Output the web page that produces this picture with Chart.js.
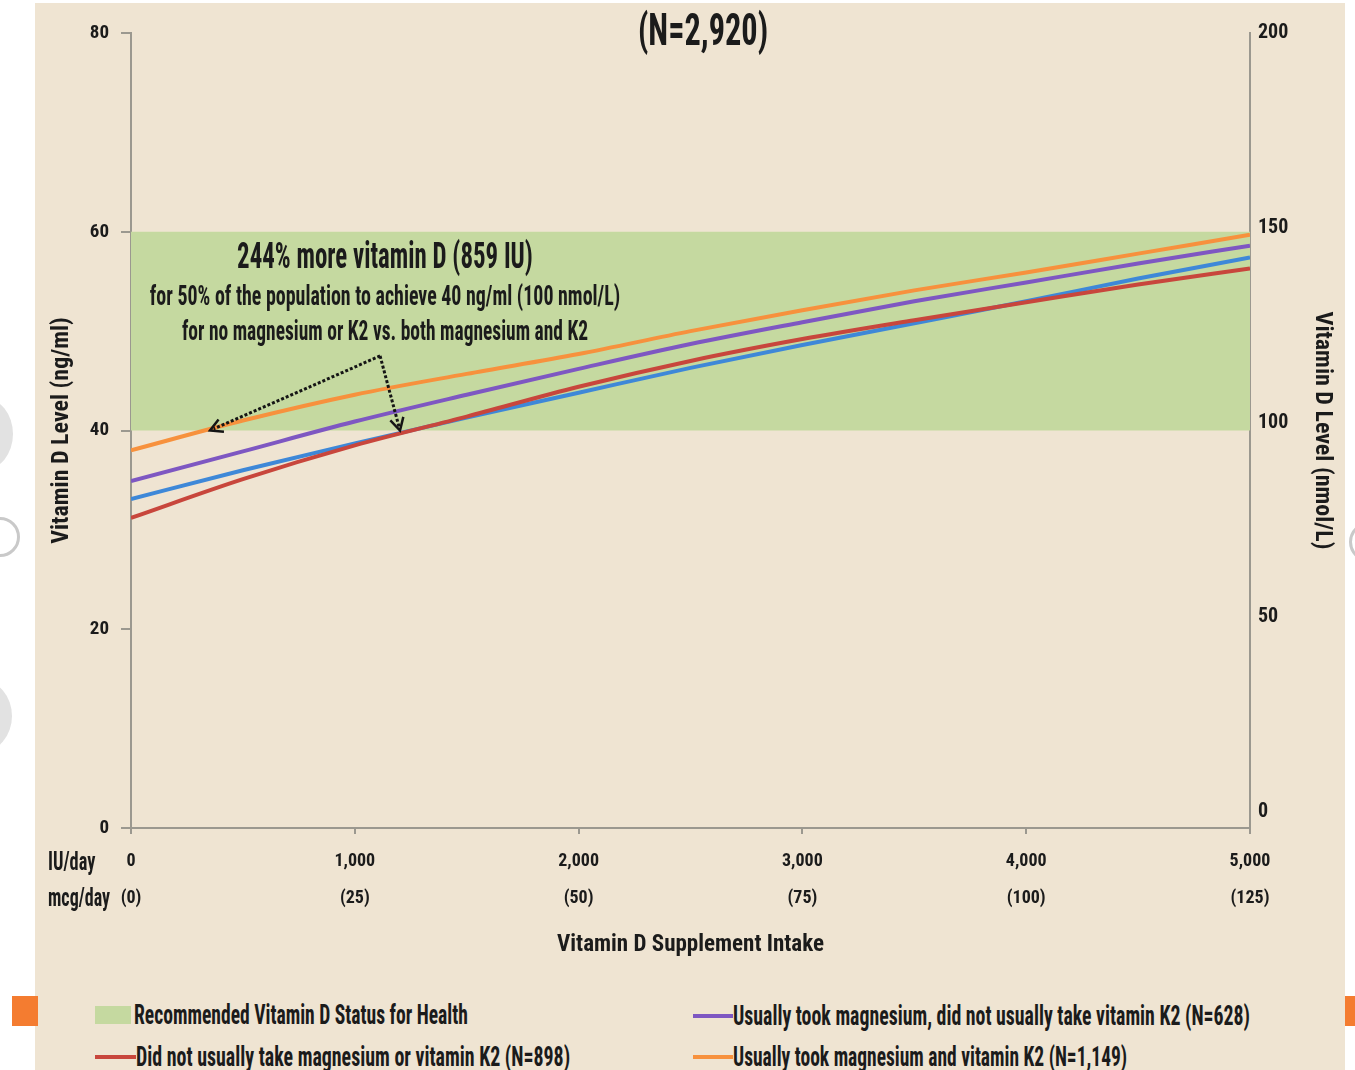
<!DOCTYPE html>
<html>
<head>
<meta charset="utf-8">
<script src="https://cdn.jsdelivr.net/npm/chart.js@4.4.1/dist/chart.umd.min.js"></script>
<style>
html, body { margin: 0; padding: 0; background: #fff; }
body { width: 1355px; height: 1070px; position: relative; overflow: hidden;
  font-family: "Roboto Condensed", "Open Sans Condensed", "DejaVu Sans Condensed", sans-serif;
  font-weight: bold; color: #1b1b1b; }
#panel { position: absolute; left: 35px; top: 3px; width: 1310px; height: 1067px; background: #efe4d2; }
#wrap { position: absolute; left: 0; top: 0; width: 1355px; height: 980px; }
.txt { position: absolute; white-space: nowrap; line-height: 1; }
.c { transform-origin: 50% 50%; }
.l { transform-origin: 0 50%; }
.mark { position: absolute; }
.tab { position: absolute; background: #f47c30; }
.blob { position: absolute; border-radius: 50%; }
</style>
</head>
<body>
<div class="blob" style="left:-45px;top:398px;width:58px;height:72px;background:#e2e2e2"></div>
<div class="blob" style="left:-20px;top:517px;width:40px;height:40px;border:3px solid #c9c9c9;box-sizing:border-box"></div>
<div class="blob" style="left:-50px;top:680px;width:62px;height:72px;background:#e2e2e2"></div>
<div class="blob" style="left:1349px;top:522px;width:40px;height:40px;border:3px solid #c9c9c9;box-sizing:border-box"></div>
<div id="panel"></div>
<div class="tab" style="left:12px;top:996px;width:26px;height:30px"></div>
<div class="tab" style="left:1345px;top:996px;width:10px;height:30px"></div>
<div id="wrap"><canvas id="Chart"></canvas></div>

<div class="txt c" data-w="130" style="left:703px;top:30px;font-size:44px">(N=2,920)</div>
<div class="txt c" data-w="296" style="left:385px;top:256px;font-size:36px">244% more vitamin D (859 IU)</div>
<div class="txt c" data-w="470" style="left:385px;top:296px;font-size:27px">for 50% of the population to achieve 40 ng/ml (100 nmol/L)</div>
<div class="txt c" data-w="406" style="left:385px;top:331px;font-size:27px">for no magnesium or K2 vs. both magnesium and K2</div>
<div class="txt l" data-w="47" style="left:48px;top:861px;font-size:25px">IU/day</div>
<div class="txt l" data-w="62" style="left:48px;top:897px;font-size:25px">mcg/day</div>

<div class="mark" style="left:95px;top:1006px;width:36px;height:18px;background:#c5d9a0"></div>
<div class="mark" style="left:95px;top:1055px;width:41px;height:4px;background:#c8463c"></div>
<div class="mark" style="left:693px;top:1014px;width:40px;height:4px;background:#7e57c2"></div>
<div class="mark" style="left:693px;top:1055px;width:40px;height:4px;background:#f7913d"></div>
<div class="txt l" data-w="334" style="left:134px;top:1015px;font-size:28px">Recommended Vitamin D Status for Health</div>
<div class="txt l" data-w="434" style="left:136px;top:1057px;font-size:28px">Did not usually take magnesium or vitamin K2 (N=898)</div>
<div class="txt l" data-w="517" style="left:733px;top:1016px;font-size:28px">Usually took magnesium, did not usually take vitamin K2 (N=628)</div>
<div class="txt l" data-w="394" style="left:733px;top:1057px;font-size:28px">Usually took magnesium and vitamin K2 (N=1,149)</div>

<script>
// IU/day points
var iuValues = [0, 500, 1000, 1500, 2000, 2500, 3000, 3500, 4000, 4500, 5000];
var noMgNoK2 = [31.2, 35.1, 38.5, 41.4, 44.4, 47.0, 49.2, 51.1, 52.9, 54.7, 56.3];
var blueLine = [33.1, 36.0, 38.7, 41.3, 43.8, 46.3, 48.6, 50.8, 53.0, 55.3, 57.4];
var mgNoK2 = [34.9, 37.9, 40.9, 43.6, 46.2, 48.7, 50.9, 53.0, 54.9, 56.8, 58.6];
var mgAndK2 = [38.0, 41.0, 43.6, 45.7, 47.7, 50.0, 52.1, 54.1, 55.9, 57.8, 59.7];

var bandRange = [40, 60];
var xTickValues = [0, 1000, 2000, 3000, 4000, 5000];
var xTickIU = ['0', '1,000', '2,000', '3,000', '4,000', '5,000'];
var xTickMcg = ['(0)', '(25)', '(50)', '(75)', '(100)', '(125)'];
var leftTicks = [0, 20, 40, 60, 80];
var rightTicks = [0, 50, 100, 150, 200];

// dotted arrows (IU, ng/ml)
var arrowFrom = [1113, 47.5];
var arrowTargets = [[353, 40], [1202, 40]];

// squeeze html text to its width in the picture
document.querySelectorAll('.txt').forEach(function(el){
    var w = +el.getAttribute('data-w');
    var sx = w / el.offsetWidth;
    if (el.classList.contains('c'))
        el.style.transform = 'translate(-50%,-50%) scale(' + sx + ',1)';
    else
        el.style.transform = 'translateY(-50%) scale(' + sx + ',1)';
});

function pts(arr){
    return iuValues.map(function(x, i){ return {x: x, y: arr[i]}; });
}

var axisGray = '#9b988f';
Chart.defaults.font.family = '"Roboto Condensed", "Open Sans Condensed", "DejaVu Sans Condensed", sans-serif';
Chart.defaults.font.weight = 'bold';
Chart.defaults.color = '#1b1b1b';

var arrows = {
    id: 'arrows',
    afterDatasetsDraw: function(chart){
        var ctx = chart.ctx, sx = chart.scales.x, sy = chart.scales.y;
        var fx = sx.getPixelForValue(arrowFrom[0]), fy = sy.getPixelForValue(arrowFrom[1]);
        ctx.save();
        ctx.strokeStyle = '#151515';
        ctx.fillStyle = '#151515';
        arrowTargets.forEach(function(t){
            var tx = sx.getPixelForValue(t[0]), ty = sy.getPixelForValue(t[1]);
            var a = Math.atan2(ty - fy, tx - fx);
            ctx.lineWidth = 3;
            ctx.setLineDash([3, 2]);
            ctx.beginPath();
            ctx.moveTo(fx, fy);
            ctx.lineTo(tx - 4 * Math.cos(a), ty - 4 * Math.sin(a));
            ctx.stroke();
            ctx.setLineDash([]);
            ctx.lineWidth = 2.5;
            ctx.beginPath();
            ctx.moveTo(tx - 14 * Math.cos(a - 0.5), ty - 14 * Math.sin(a - 0.5));
            ctx.lineTo(tx, ty);
            ctx.lineTo(tx - 14 * Math.cos(a + 0.5), ty - 14 * Math.sin(a + 0.5));
            ctx.stroke();
        });
        ctx.restore();
    }
};

function line(label, arr, color, order){
    return {
        label: label, data: pts(arr), borderColor: color, backgroundColor: color,
        borderWidth: 4, pointRadius: 0, fill: false, order: order,
        cubicInterpolationMode: 'monotone'
    };
}

var ctx = document.getElementById("Chart").getContext("2d");
var lineChart = new Chart(ctx, {
    type: 'line',
    data: {
        datasets: [
            line('Usually took magnesium and vitamin K2 (N=1,149)', mgAndK2, '#f7913d', 1),
            line('Usually took magnesium, did not usually take vitamin K2 (N=628)', mgNoK2, '#7e57c2', 2),
            line('Did not usually take magnesium or vitamin K2 (N=898)', noMgNoK2, '#c8463c', 3),
            line('Other group', blueLine, '#3e88d8', 4),
            {
                label: 'Recommended Vitamin D Status for Health',
                data: [{x: xTickValues[0], y: bandRange[1]}, {x: xTickValues[5], y: bandRange[1]}],
                borderWidth: 0, pointRadius: 0, fill: '+1', backgroundColor: '#c5d9a0', order: 10
            },
            {
                label: 'band bottom',
                data: [{x: xTickValues[0], y: bandRange[0]}, {x: xTickValues[5], y: bandRange[0]}],
                borderWidth: 0, pointRadius: 0, fill: false, order: 11
            }
        ]
    },
    options: {
        responsive: true,
        maintainAspectRatio: false,
        animation: false,
        layout: { padding: { top: 33, left: 0, right: 0, bottom: 0 } },
        plugins: { legend: { display: false }, tooltip: { enabled: false } },
        scales: {
            x: {
                type: 'linear', min: 0, max: 5000,
                afterBuildTicks: function(s){ s.ticks = xTickValues.map(function(v){ return {value: v}; }); },
                afterFit: function(s){ s.height = 152; },
                ticks: {
                    padding: 9, maxRotation: 0, autoSkip: false,
                    font: { size: 18, lineHeight: 2.05 },
                    callback: function(v){ var i = xTickValues.indexOf(v); return [xTickIU[i], xTickMcg[i]]; }
                },
                grid: { display: true, drawOnChartArea: false, tickLength: 6, color: axisGray, lineWidth: 2 },
                border: { display: true, color: axisGray, width: 2 },
                title: { display: true, text: 'Vitamin D Supplement Intake', font: { size: 23 }, padding: { top: 0, bottom: 21 } }
            },
            y: {
                position: 'left', min: 0, max: 80,
                afterBuildTicks: function(s){ s.ticks = leftTicks.map(function(v){ return {value: v}; }); },
                afterFit: function(s){ s.width = 131; },
                ticks: { padding: 12, font: { size: 19 } },
                grid: { display: true, drawOnChartArea: false, tickLength: 10, color: axisGray, lineWidth: 2 },
                border: { display: true, color: axisGray, width: 2 },
                title: { display: true, text: 'Vitamin D Level (ng/ml)', font: { size: 24 }, padding: { top: 48, bottom: 0 } }
            },
            y2: {
                position: 'right', min: -4.1, max: 200,
                afterBuildTicks: function(s){ s.ticks = rightTicks.map(function(v){ return {value: v}; }); },
                afterFit: function(s){ s.width = 105; },
                ticks: { padding: 8, font: { size: 20 } },
                grid: { display: false, drawTicks: false },
                border: { display: true, color: axisGray, width: 2 },
                title: { display: true, text: 'Vitamin D Level (nmol/L)', font: { size: 24 }, padding: { top: 19, bottom: 0 } }
            }
        }
    },
    plugins: [arrows]
});
</script>
</body>
</html>
